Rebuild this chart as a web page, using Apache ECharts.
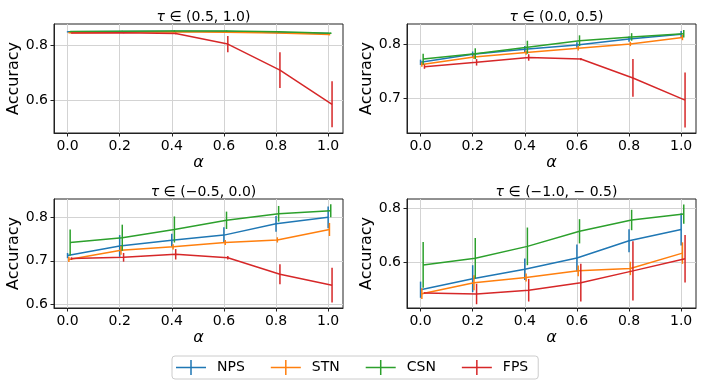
<!DOCTYPE html>
<html>
<head>
<meta charset="utf-8">
<script src="https://cdn.jsdelivr.net/npm/echarts@6/dist/echarts.min.js"></script>
<style>html,body{margin:0;padding:0;background:#fff}#c{width:706px;height:388px}</style>
</head>
<body>
<div id="c"></div>
<script>
// ---- data ----
const alphas = [0.0, 0.2, 0.4, 0.6, 0.8, 1.0];
const methods = ['NPS', 'STN', 'CSN', 'FPS'];
const colors = ['#1f77b4', '#ff7f0e', '#2ca02c', '#d62728'];
const panelTitles = ['(0.5, 1.0)', '(0.0, 0.5)', '(−0.5, 0.0)', '(−1.0, − 0.5)'];
const xTicks = [0.0, 0.2, 0.4, 0.6, 0.8, 1.0];
const yTicks = [[0.6, 0.8], [0.7, 0.8], [0.6, 0.7, 0.8], [0.6, 0.8]];
const yRanges = [[0.478, 0.880], [0.636, 0.838], [0.5915, 0.842], [0.431, 0.836]];

// panel 1: tau in (0.5, 1.0)
const p1_NPS = [0.851, 0.852, 0.853, 0.852, 0.849, 0.845];
const p1_STN = [0.848, 0.850, 0.851, 0.850, 0.847, 0.841];
const p1_CSN = [0.852, 0.853, 0.854, 0.854, 0.851, 0.846];
const p1_FPS = [0.847, 0.848, 0.845, 0.806, 0.710, 0.584];
const p1_NPS_err = [0.002, 0.002, 0.002, 0.002, 0.002, 0.003];
const p1_STN_err = [0.002, 0.002, 0.002, 0.002, 0.002, 0.003];
const p1_CSN_err = [0.002, 0.002, 0.003, 0.002, 0.002, 0.003];
const p1_FPS_err = [0.002, 0.002, 0.003, 0.030, 0.066, 0.085];

// panel 2: tau in (0.0, 0.5)
const p2_NPS = [0.767, 0.782, 0.791, 0.799, 0.810, 0.819];
const p2_STN = [0.763, 0.777, 0.785, 0.793, 0.801, 0.813];
const p2_CSN = [0.773, 0.783, 0.795, 0.807, 0.814, 0.820];
const p2_FPS = [0.759, 0.767, 0.776, 0.773, 0.738, 0.697];
const p2_NPS_err = [0.005, 0.005, 0.006, 0.005, 0.005, 0.006];
const p2_STN_err = [0.004, 0.004, 0.004, 0.004, 0.004, 0.005];
const p2_CSN_err = [0.010, 0.010, 0.012, 0.010, 0.007, 0.007];
const p2_FPS_err = [0.004, 0.006, 0.006, 0.002, 0.035, 0.051];

// panel 3: tau in (-0.5, 0.0)
const p3_NPS = [0.712, 0.734, 0.747, 0.759, 0.785, 0.800];
const p3_STN = [0.703, 0.724, 0.732, 0.742, 0.748, 0.772];
const p3_CSN = [0.742, 0.753, 0.772, 0.793, 0.808, 0.815];
const p3_FPS = [0.705, 0.708, 0.715, 0.707, 0.669, 0.644];
const p3_NPS_err = [0.006, 0.025, 0.015, 0.018, 0.018, 0.025];
const p3_STN_err = [0.006, 0.010, 0.006, 0.006, 0.006, 0.015];
const p3_CSN_err = [0.030, 0.030, 0.030, 0.020, 0.018, 0.015];
const p3_FPS_err = [0.003, 0.010, 0.012, 0.004, 0.023, 0.040];

// panel 4: tau in (-1.0, -0.5)
const p4_NPS = [0.499, 0.540, 0.575, 0.617, 0.681, 0.723];
const p4_STN = [0.484, 0.525, 0.544, 0.569, 0.578, 0.635];
const p4_CSN = [0.591, 0.616, 0.660, 0.716, 0.758, 0.780];
const p4_FPS = [0.487, 0.483, 0.497, 0.525, 0.569, 0.614];
const p4_NPS_err = [0.030, 0.050, 0.040, 0.050, 0.043, 0.060];
const p4_STN_err = [0.020, 0.028, 0.015, 0.020, 0.025, 0.040];
const p4_CSN_err = [0.085, 0.075, 0.070, 0.045, 0.038, 0.036];
const p4_FPS_err = [0.003, 0.038, 0.042, 0.070, 0.110, 0.088];

const xOffsets = [0.0, 0.005, 0.010, 0.015];

const means = [
  [p1_NPS, p1_STN, p1_CSN, p1_FPS],
  [p2_NPS, p2_STN, p2_CSN, p2_FPS],
  [p3_NPS, p3_STN, p3_CSN, p3_FPS],
  [p4_NPS, p4_STN, p4_CSN, p4_FPS]
];
const errs = [
  [p1_NPS_err, p1_STN_err, p1_CSN_err, p1_FPS_err],
  [p2_NPS_err, p2_STN_err, p2_CSN_err, p2_FPS_err],
  [p3_NPS_err, p3_STN_err, p3_CSN_err, p3_FPS_err],
  [p4_NPS_err, p4_STN_err, p4_CSN_err, p4_FPS_err]
];

// ---- layout ----
const FONT = 'DejaVu Sans';
const grids = [
  {left: 54, top: 24, width: 289, height: 109},
  {left: 407, top: 24, width: 289, height: 109},
  {left: 54, top: 199, width: 289, height: 109},
  {left: 407, top: 199, width: 289, height: 109}
];

const xAxes = [], yAxes = [], series = [], titles = [];
grids.forEach((g, i) => {
  g.show = true; g.borderColor = '#222'; g.borderWidth = 1; g.backgroundColor = 'transparent';
  g.containLabel = false;
  xAxes.push({
    type: 'value', gridIndex: i, min: -0.052, max: 1.057,
    name: 'α', nameLocation: 'middle', nameGap: 22,
    nameTextStyle: {fontFamily: FONT, fontSize: 16, fontStyle: 'italic', color: '#000'},
    axisLine: {show: true, onZero: false, lineStyle: {color: '#222', width: 1}},
    axisTick: {show: true, length: 3.5, inside: false, customValues: xTicks, lineStyle: {color: '#222'}},
    axisLabel: {customValues: xTicks, margin: 6, fontFamily: FONT, fontSize: 14, color: '#000',
      formatter: v => v.toFixed(1)},
    splitLine: {show: true, lineStyle: {color: '#d3d3d3', width: 1}}
  });
  yAxes.push({
    type: 'value', gridIndex: i, min: yRanges[i][0], max: yRanges[i][1],
    name: 'Accuracy', nameLocation: 'middle', nameGap: 32, nameRotate: 90,
    nameTextStyle: {fontFamily: FONT, fontSize: 16, color: '#000'},
    axisLine: {show: true, onZero: false, lineStyle: {color: '#222', width: 1}},
    axisTick: {show: true, length: 3.5, inside: false, customValues: yTicks[i], lineStyle: {color: '#222'}},
    axisLabel: {customValues: yTicks[i], margin: 6, fontFamily: FONT, fontSize: 14, color: '#000',
      formatter: v => v.toFixed(1)},
    splitLine: {show: true, lineStyle: {color: '#d3d3d3', width: 1}}
  });
  titles.push({
    text: '{i|τ} ∈ ' + panelTitles[i],
    left: g.left + g.width / 2, top: i >= 2 ? 180 : 5, textAlign: 'center',
    textStyle: {fontFamily: FONT, fontSize: 14, fontWeight: 'normal', color: '#000',
      rich: {i: {fontFamily: FONT, fontSize: 14, fontStyle: 'italic', color: '#000'}}}
  });
  methods.forEach((m, k) => {
    const pts = alphas.map((a, j) => [a + xOffsets[k], means[i][k][j], errs[i][k][j]]);
    series.push({
      name: m, type: 'line', xAxisIndex: i, yAxisIndex: i,
      data: pts.map(p => [p[0], p[1]]),
      symbol: 'none', color: colors[k],
      lineStyle: {color: colors[k], width: 1.5}, z: 2 + k, animation: false
    });
    series.push({
      name: m + '_err', type: 'custom', xAxisIndex: i, yAxisIndex: i,
      data: pts, z: 2 + k, animation: false,
      renderItem: (params, api) => {
        const x = api.value(0), y = api.value(1), e = api.value(2);
        const p1 = api.coord([x, y + e]), p2 = api.coord([x, y - e]);
        return {type: 'line', shape: {x1: p1[0], y1: p1[1], x2: p2[0], y2: p2[1]},
          style: {stroke: colors[k], lineWidth: 1.5}};
      }
    });
  });
});

const plusIcon = 'path://M0,13.5 L60,13.5 L60,16.5 L0,16.5 Z M28.5,0 L31.5,0 L31.5,30 L28.5,30 Z';

const option = {
  animation: false,
  backgroundColor: '#fff',
  title: titles,
  grid: grids,
  xAxis: xAxes,
  yAxis: yAxes,
  legend: {
    data: methods.map(m => ({name: m, icon: plusIcon})),
    left: 172, top: 356, orient: 'horizontal',
    itemWidth: 30, itemHeight: 15, itemGap: 26,
    padding: [4, 10, 4, 4],
    borderColor: '#cccccc', borderWidth: 1, borderRadius: 3,
    backgroundColor: '#fff',
    itemStyle: {borderWidth: 0},
    textStyle: {fontFamily: FONT, fontSize: 14, color: '#000', padding: [0, 0, 0, 6]}
  },
  series: series
};
const chart = echarts.init(document.getElementById('c'), null, {renderer: 'canvas'});
chart.setOption(option);
</script>
</body>
</html>
